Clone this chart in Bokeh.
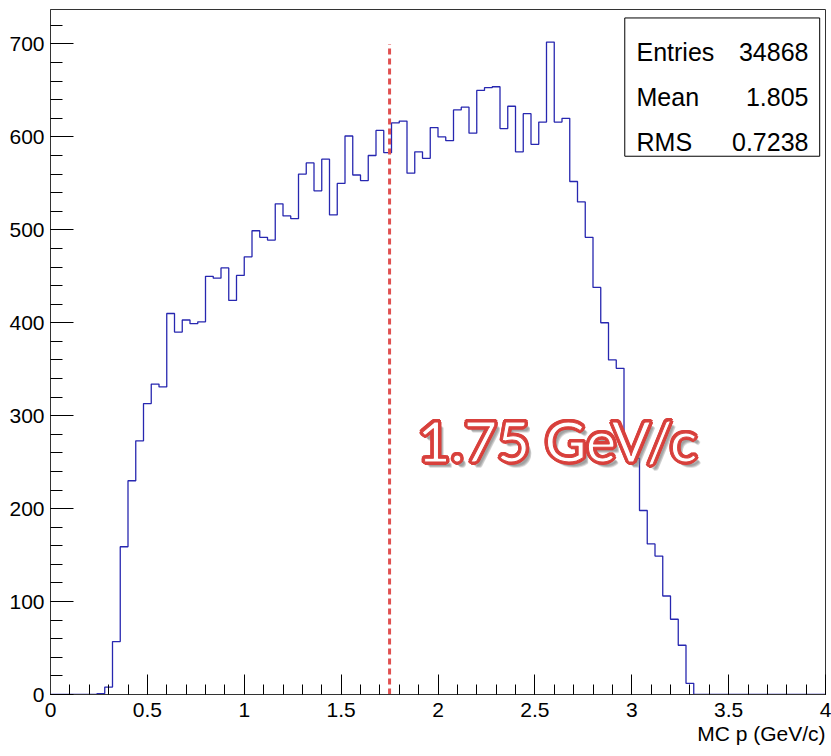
import math
import numpy as np
from bokeh.plotting import figure
from bokeh.models import Range1d, SingleIntervalTicker, Title
from bokeh.core.properties import value
from bokeh.embed import file_html
from bokeh.resources import INLINE

# ---------------- data ----------------
bin_lo = 0.0
bin_hi = 4.0
n_bins = 100
counts = [
    0, 0, 0, 0, 0, 0, 1, 8, 57, 159,
    230, 273, 313, 334, 331, 410, 390, 403, 399, 401,
    450, 448, 459, 424, 451, 471, 499, 492, 489, 528,
    515, 512, 560, 572, 542, 576, 516, 550, 601, 559,
    553, 580, 607, 583, 615, 617, 561, 584, 577, 610,
    600, 596, 629, 632, 604, 650, 653, 654, 609, 633,
    584, 625, 592, 616, 702, 616, 620, 552, 530, 492,
    438, 400, 360, 351, 265, 254, 198, 162, 149, 106,
    81, 53, 12, 0, 0, 0, 0, 0, 0, 0,
    0, 0, 0, 0, 0, 0, 0, 0, 0, 0,
]
cut_value = 1.75
cut_top = 700
cut_label = "1.75 GeV/c"
stats_names = ["Entries", "Mean", "RMS"]
stats_values = ["34868", "1.805", "0.7238"]
x_tick_values = [0, 0.5, 1, 1.5, 2, 2.5, 3, 3.5, 4]
x_tick_labels = ["0", "0.5", "1", "1.5", "2", "2.5", "3", "3.5", "4"]
x_title = "MC p (GeV/c)"

FONT = "Liberation Sans"
BIG_FONT = "Lato"
RED = "#d8403c"

edges = np.linspace(bin_lo, bin_hi, n_bins + 1)
step_y = list(counts) + [counts[-1]]

p = figure(width=831, height=756, output_backend="svg", toolbar_location=None,
           x_range=Range1d(bin_lo, bin_hi), y_range=Range1d(0, 1.05 * max(counts)),
           min_border_left=50, min_border_right=6, min_border_top=9, min_border_bottom=62)
p.background_fill_color = "white"
p.border_fill_color = "white"
p.outline_line_color = "#333333"
p.outline_line_width = 1
p.grid.visible = False

# axes
p.xaxis.ticker = SingleIntervalTicker(interval=0.5, num_minor_ticks=5)
p.yaxis.ticker = SingleIntervalTicker(interval=100, num_minor_ticks=5)
p.xaxis.major_label_overrides = {v: s for v, s in zip(x_tick_values, x_tick_labels)}
for ax in (p.xaxis[0], p.yaxis[0]):
    ax.major_tick_out = 0
    ax.minor_tick_out = 0
    ax.axis_line_color = "#333333"
    ax.major_tick_line_color = "black"
    ax.minor_tick_line_color = "black"
    ax.major_label_text_font = FONT
    ax.major_label_text_font_size = "21px"
    ax.major_label_text_color = "black"
p.yaxis.major_tick_in = 23
p.yaxis.minor_tick_in = 12
p.yaxis.major_label_standoff = 6
p.xaxis.major_tick_in = 20
p.xaxis.minor_tick_in = 10
p.xaxis.major_label_standoff = 8

# x-axis title, right aligned under the axis
p.add_layout(Title(text=x_title, align="right", text_font=FONT,
                   text_font_size="21px", text_font_style="normal",
                   text_color="black", standoff=0, offset=0), "below")

# histogram
p.step(x=edges, y=step_y, mode="after", line_color="#2727b0", line_width=1.3)

# cut line
p.segment(x0=[cut_value], y0=[0], x1=[cut_value], y1=[cut_top],
          line_color="#e04f4f", line_width=3, line_dash="6 4")

# stats box
p.quad(left=[2.964], right=[3.970], top=[728.0], bottom=[579.2],
       fill_color="white", line_color="black", line_width=1)
p.text(x=[3.0245] * 3, y=[691, 643, 594], text=stats_names,
       text_font=value(FONT), text_font_size="25px", text_color="black",
       text_align="left", text_baseline="alphabetic")
p.text(x=[3.912] * 3, y=[691, 643, 594], text=stats_values,
       text_font=value(FONT), text_font_size="25px", text_color="black",
       text_align="right", text_baseline="alphabetic")

# big annotation text: shadow, red ring, white core with red outline
tx, ty = 1.894, 274
common = dict(text_font=value(BIG_FONT), text_font_size="57px", text_font_style="normal",
              text_align="left", text_baseline="alphabetic")
for dx, dy in [(2, 3), (3, 4), (4, 5), (3, 3), (4, 4)]:
    p.text(x=[tx], y=[ty], text=[cut_label], text_color="#7a7a7a", text_alpha=0.22,
           x_offset=dx + 1, y_offset=dy + 1, **common)
for r in (1.5, 3.0):
    for ang in range(0, 360, 30):
        dx = r * math.cos(math.radians(ang))
        dy = r * math.sin(math.radians(ang))
        p.text(x=[tx], y=[ty], text=[cut_label], text_color=RED,
               x_offset=dx, y_offset=dy, **common)
p.text(x=[tx], y=[ty], text=[cut_label], text_color="white",
       text_outline_color=RED, **common)

open("out.html", "w").write(file_html(p, INLINE))
